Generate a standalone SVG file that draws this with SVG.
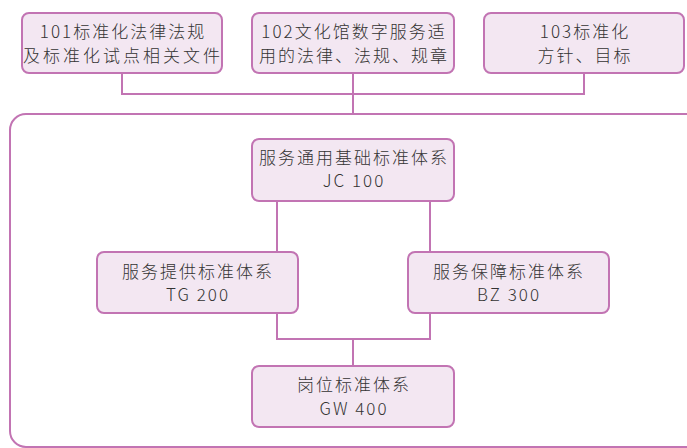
<svg xmlns="http://www.w3.org/2000/svg" width="687" height="448" viewBox="0 0 687 448">
<style>
.box{fill:#f3e7f2;stroke:#c274b3;stroke-width:2}
.frame{fill:none;stroke:#c274b3;stroke-width:2}
.ln{fill:none;stroke:#c274b3;stroke-width:2}
text{font-family:"Noto Sans CJK SC","Noto Sans",sans-serif;font-size:17px;font-weight:300;fill:#333;text-anchor:middle;letter-spacing:2px}
</style>
<rect class="frame" x="10" y="114" width="710" height="333" rx="16"/>
<g id="connectors">
<polyline class="ln" points="122,73 122,94 584,94 584,73"/>
<line class="ln" x1="353" y1="73" x2="353" y2="114"/>
<line class="ln" x1="277" y1="201" x2="277" y2="252"/>
<line class="ln" x1="430" y1="201" x2="430" y2="252"/>
<polyline class="ln" points="277,313 277,339 430,339 430,313"/>
<line class="ln" x1="353" y1="339" x2="353" y2="366"/>
</g>
<g id="n101">
<rect class="box" x="22" y="13" width="200" height="60" rx="7"/>
<text x="123" y="38">101标准化法律法规</text>
<text x="123" y="62" style="letter-spacing:3px">及标准化试点相关文件</text>
</g>
<g id="n102">
<rect class="box" x="252" y="13" width="202" height="60" rx="7"/>
<text x="354" y="38">102文化馆数字服务适</text>
<text x="354" y="62">用的法律、法规、规章</text>
</g>
<g id="n103">
<rect class="box" x="484" y="13" width="200" height="60" rx="7"/>
<text x="585" y="38">103标准化</text>
<text x="585" y="62">方针、目标</text>
</g>
<g id="jc">
<rect class="box" x="252" y="139" width="202" height="62" rx="7"/>
<text x="354" y="164">服务通用基础标准体系</text>
<text x="354" y="187">JC 100</text>
</g>
<g id="tg">
<rect class="box" x="97" y="252" width="201" height="61" rx="7"/>
<text x="198" y="278">服务提供标准体系</text>
<text x="198" y="301">TG 200</text>
</g>
<g id="bz">
<rect class="box" x="408" y="252" width="201" height="61" rx="7"/>
<text x="509" y="278">服务保障标准体系</text>
<text x="509" y="301">BZ 300</text>
</g>
<g id="gw">
<rect class="box" x="252" y="366" width="202" height="61" rx="7"/>
<text x="354" y="391">岗位标准体系</text>
<text x="354" y="415">GW 400</text>
</g>
</svg>
